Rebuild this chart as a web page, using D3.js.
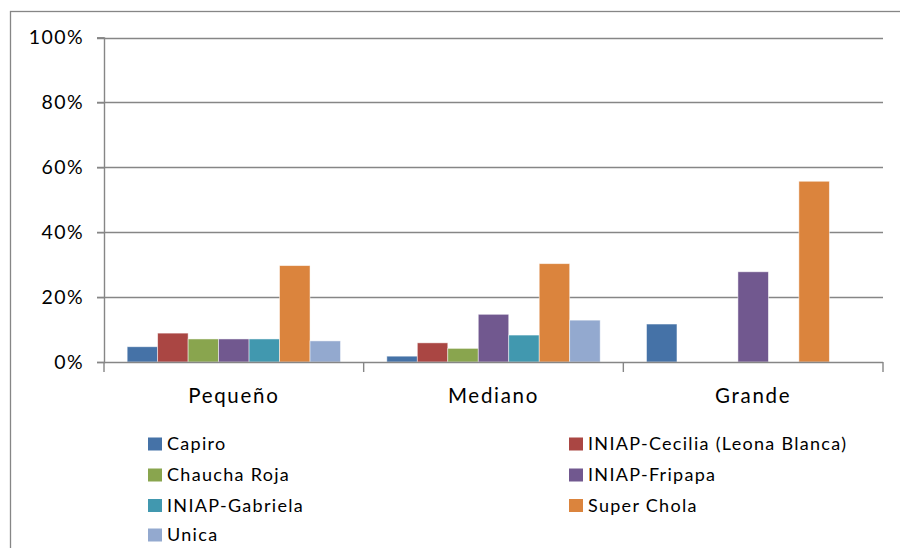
<!DOCTYPE html>
<html>
<head>
<meta charset="utf-8">
<script src="https://cdn.jsdelivr.net/npm/d3@7"></script>
<style>
  html, body { margin: 0; padding: 0; background: #fff; }
  svg { display: block; }
  text { font-family: Lato, "Open Sans", sans-serif; fill: #000; }
</style>
</head>
<body>
<svg id="chart" width="900" height="548"></svg>
<script>
const categories = ["Pequeño", "Mediano", "Grande"];
const seriesNames = ["Capiro", "INIAP-Cecilia (Leona Blanca)", "Chaucha Roja", "INIAP-Fripapa", "INIAP-Gabriela", "Super Chola", "Unica"];
const capiro   = [0.047, 0.018, 0.117];
const cecilia  = [0.089, 0.059, 0];
const chaucha  = [0.071, 0.042, 0];
const fripapa  = [0.071, 0.147, 0.278];
const gabriela = [0.071, 0.083, 0];
const superChola = [0.297, 0.303, 0.557];
const unica    = [0.065, 0.129, 0];
const seriesValues = [capiro, cecilia, chaucha, fripapa, gabriela, superChola, unica];
const seriesColors = ["#4572A7", "#AA4643", "#89A54E", "#71588F", "#4198AF", "#DB843D", "#93A9CF"];
const yTicks = [0, 0.2, 0.4, 0.6, 0.8, 1.0];
// legend order (two columns, row-major)
const legendOrder = ["Capiro", "INIAP-Cecilia (Leona Blanca)", "Chaucha Roja", "INIAP-Fripapa", "INIAP-Gabriela", "Super Chola", "Unica"];

const svg = d3.select("#chart");
const gridColor = "#868686";

// outer chart border
svg.append("rect")
  .attr("x", 10.5).attr("y", 11.5)
  .attr("width", 1000).attr("height", 1000)
  .attr("fill", "none").attr("stroke", gridColor).attr("stroke-width", 1.3);

const plot = { left: 104, right: 883, top: 37.5, bottom: 362 };

const y = d3.scaleLinear().domain([0, 1]).range([plot.bottom, plot.top]);
const x0 = d3.scaleBand().domain(categories).range([plot.left, plot.right]).paddingInner(0).paddingOuter(0);
const x1 = d3.scaleBand().domain(seriesNames).range([0, x0.bandwidth()]).paddingInner(0).paddingOuter(0.76);

// gridlines
svg.append("g").selectAll("line")
  .data(yTicks.filter(d => d > 0))
  .join("line")
  .attr("x1", plot.left - 7).attr("x2", plot.right)
  .attr("y1", d => Math.round(y(d)) + 0.5).attr("y2", d => Math.round(y(d)) + 0.5)
  .attr("stroke", gridColor).attr("stroke-width", 1.4);

// y axis
const yAxis = d3.axisLeft(y).tickValues(yTicks).tickFormat(d3.format(".0%")).tickSize(7).tickPadding(13);
const gy = svg.append("g").attr("transform", `translate(${plot.left},0)`).call(yAxis);
gy.select(".domain").attr("stroke", gridColor).attr("stroke-width", 1.4);
gy.selectAll(".tick line").attr("stroke", gridColor).attr("stroke-width", 1.4);
gy.selectAll(".tick text").attr("font-size", 19.5).attr("letter-spacing", 1.4)
  .attr("font-family", "Lato, sans-serif").attr("fill", "#000");

// bars
const groups = svg.append("g").selectAll("g")
  .data(categories)
  .join("g")
  .attr("transform", d => `translate(${x0(d)},0)`);

groups.selectAll("rect")
  .data((c, ci) => seriesNames.map((s, si) => ({ s, v: seriesValues[si][ci], color: seriesColors[si] })))
  .join("rect")
  .attr("x", d => x1(d.s))
  .attr("width", x1.bandwidth())
  .attr("y", d => y(d.v))
  .attr("height", d => y(0) - y(d.v))
  .attr("fill", d => d.color)
  .attr("stroke", d => d.v > 0 ? "rgba(255,255,255,0.6)" : "none")
  .attr("stroke-width", 0.8);

// x axis
const xAxis = d3.axisBottom(x0).tickSize(0).tickPadding(0);
const gx = svg.append("g").attr("transform", `translate(0,${plot.bottom})`).call(xAxis);
gx.select(".domain").remove();
gx.append("line").attr("x1", plot.left).attr("x2", plot.right).attr("y1", 0.5).attr("y2", 0.5)
  .attr("stroke", gridColor).attr("stroke-width", 1.4);
gx.selectAll(".catTick")
  .data(categories.map(c => x0(c)).concat([plot.right]))
  .join("line")
  .attr("class", "catTick")
  .attr("x1", d => d).attr("x2", d => d).attr("y1", 0).attr("y2", 10)
  .attr("stroke", gridColor).attr("stroke-width", 1.4);
gx.selectAll(".tick text")
  .attr("y", 41).attr("dy", 0)
  .attr("font-size", 20.5).attr("letter-spacing", 1.7)
  .attr("font-family", "Lato, sans-serif").attr("fill", "#000");

// legend
const legend = svg.append("g");
const colX = [148, 569];
const rowY = [444, 475, 505.5, 535];
legendOrder.forEach((name, i) => {
  const si = seriesNames.indexOf(name);
  const cx = colX[i % 2];
  const cy = rowY[Math.floor(i / 2)];
  legend.append("rect")
    .attr("x", cx).attr("y", cy - 6.5).attr("width", 14).attr("height", 13)
    .attr("fill", seriesColors[si]);
  legend.append("text")
    .attr("x", cx + 19).attr("y", cy).attr("dy", "0.35em")
    .attr("font-size", 18).attr("letter-spacing", 1.3)
    .text(name);
});
</script>
</body>
</html>
